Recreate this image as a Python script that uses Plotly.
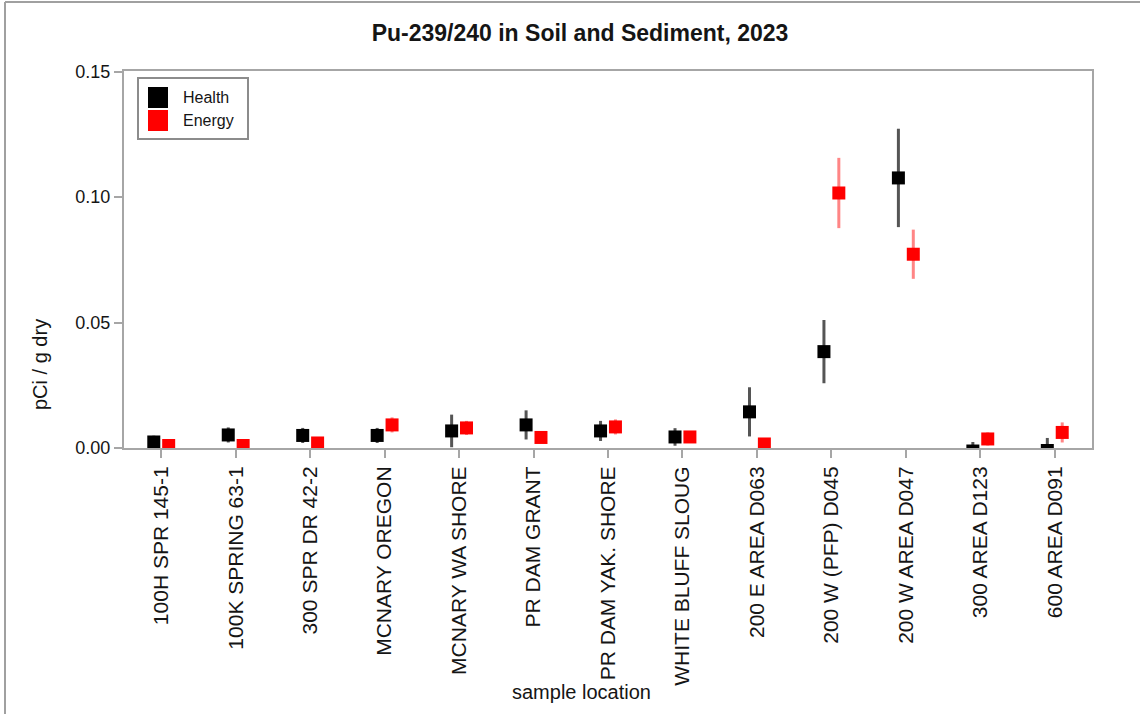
import numpy as np
import plotly.graph_objects as go

# Sample locations (x categories)
locations = [
    "100H SPR 145-1", "100K SPRING 63-1", "300 SPR DR 42-2", "MCNARY OREGON",
    "MCNARY WA SHORE", "PR DAM GRANT", "PR DAM YAK. SHORE", "WHITE BLUFF SLOUG",
    "200 E AREA D063", "200 W (PFP) D045", "200 W AREA D047", "300 AREA D123",
    "600 AREA D091",
]

# Pu-239/240 results, pCi/g dry, with measurement uncertainty
health_values = [0.0024, 0.0052, 0.0050, 0.0050, 0.0068, 0.0092, 0.0068, 0.0044,
                 0.0144, 0.0384, 0.1076, -0.0012, -0.0010]
health_errors = [0.0025, 0.0030, 0.0030, 0.0030, 0.0065, 0.0058, 0.0040, 0.0035,
                 0.0098, 0.0126, 0.0196, 0.0036, 0.0050]

energy_values = [0.0010, 0.0010, 0.0020, 0.0092, 0.0080, 0.0042, 0.0084, 0.0044,
                 0.0016, 0.1016, 0.0772, 0.0036, 0.0062]
energy_errors = [0.0010, 0.0010, 0.0010, 0.0030, 0.0028, 0.0022, 0.0030, 0.0010,
                 0.0020, 0.0140, 0.0098, 0.0026, 0.0040]

y_ticks = [0.00, 0.05, 0.10, 0.15]

# Figure geometry (pixels)
W, H = 1140, 714
PL, PR, PT, PB = 124, 1092, 71, 448


def px_x(px):
    return (px - PL) / (PR - PL)


def px_y(py):
    return (PB - py) / (PB - PT)


FONT = "Liberation Sans, Arial, sans-serif"
TEXT = "#151515"
AXIS = "#a6a6a6"

idx = np.arange(len(locations))
dodge = 0.1

fig = go.Figure()
fig.add_trace(go.Scatter(
    x=idx - dodge, y=health_values, mode="markers", name="Health",
    marker=dict(symbol="square", size=13, color="black", line=dict(width=0)),
    error_y=dict(type="data", array=health_errors, visible=True,
                 color="#555555", thickness=3, width=0),
    showlegend=False,
))
fig.add_trace(go.Scatter(
    x=idx + dodge, y=energy_values, mode="markers", name="Energy",
    marker=dict(symbol="square", size=13, color="#ff0000", line=dict(width=0)),
    error_y=dict(type="data", array=energy_errors, visible=True,
                 color="#ff8585", thickness=3, width=0),
    showlegend=False,
))

shapes = []
annotations = []

# Legend box with colour swatches
shapes.append(dict(type="rect", xref="paper", yref="paper",
                   x0=px_x(138), x1=px_x(248), y0=px_y(139), y1=px_y(78),
                   line=dict(color="#8c8c8c", width=2), fillcolor="white"))
for (name, color, top) in [("Health", "black", 87), ("Energy", "#ff0000", 110)]:
    shapes.append(dict(type="rect", xref="paper", yref="paper",
                       x0=px_x(148), x1=px_x(168), y0=px_y(top + 21), y1=px_y(top),
                       line=dict(width=0), fillcolor=color))
    annotations.append(dict(text=name, xref="paper", yref="paper",
                            x=px_x(181), y=px_y(top + 10.5), xanchor="left",
                            yanchor="middle", showarrow=False,
                            font=dict(family=FONT, size=16, color=TEXT)))

# Outer frame lines
shapes.append(dict(type="line", xref="paper", yref="paper",
                   x0=px_x(5), x1=px_x(1140), y0=px_y(2), y1=px_y(2),
                   line=dict(color="#a0a0a0", width=2)))
shapes.append(dict(type="line", xref="paper", yref="paper",
                   x0=px_x(5), x1=px_x(5), y0=px_y(2), y1=px_y(714),
                   line=dict(color="#a0a0a0", width=2)))

# Axis titles
annotations.append(dict(text="pCi / g dry", xref="paper", yref="paper",
                        x=px_x(40), y=px_y(365), textangle=-90,
                        xanchor="center", yanchor="middle", showarrow=False,
                        font=dict(family=FONT, size=20, color=TEXT)))
annotations.append(dict(text="sample location", xref="paper", yref="paper",
                        x=px_x(581), y=px_y(692), xanchor="center",
                        yanchor="middle", showarrow=False,
                        font=dict(family=FONT, size=20, color=TEXT)))

fig.update_layout(
    width=W, height=H,
    margin=dict(l=PL, r=W - PR, t=PT, b=H - PB, autoexpand=False),
    paper_bgcolor="white", plot_bgcolor="white",
    title=dict(text="<b>Pu-239/240 in Soil and Sediment, 2023</b>",
               xref="container", yref="container",
               x=580 / W, y=1 - 33 / H, xanchor="center", yanchor="middle",
               font=dict(family=FONT, size=23, color=TEXT)),
    shapes=shapes, annotations=annotations,
    showlegend=False,
)
fig.update_xaxes(
    range=[-0.5, len(locations) - 0.5],
    tickmode="array", tickvals=idx, ticktext=locations, tickangle=-90,
    ticks="outside", ticklen=8, tickwidth=2, tickcolor=AXIS,
    showline=True, linecolor=AXIS, linewidth=2, mirror=True,
    showgrid=False, zeroline=False, automargin=False,
    tickfont=dict(family=FONT, size=21, color=TEXT),
)
fig.update_yaxes(
    range=[0, 0.1502],
    tickmode="array", tickvals=y_ticks, tickformat=".2f",
    ticks="outside", ticklen=8, tickwidth=2, tickcolor=AXIS,
    showline=True, linecolor=AXIS, linewidth=2, mirror=True,
    showgrid=False, zeroline=False, automargin=False,
    tickfont=dict(family=FONT, size=18, color=TEXT),
)

fig.write_html("out.html")
